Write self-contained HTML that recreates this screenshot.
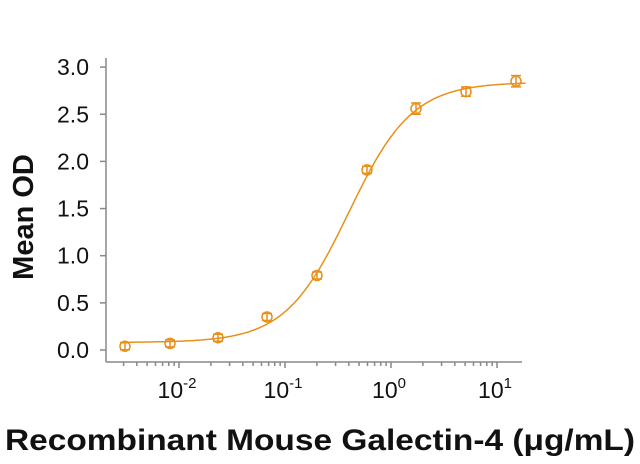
<!DOCTYPE html>
<html><head><style>
body{margin:0;background:#fff;}
svg{display:block;font-family:"Liberation Sans",Arial,sans-serif;}
</style></head><body>
<svg id="s" width="640" height="464" xmlns="http://www.w3.org/2000/svg">
<g stroke="#888" stroke-width="1.5" fill="none">
<line x1="106" y1="58" x2="106" y2="362"/>
<line x1="106" y1="362" x2="522" y2="362"/>
</g>
<g id="yt" font-size="23" fill="#111" text-anchor="end"></g>
<g id="xt" font-size="23" fill="#111" text-anchor="middle">
<text x="177" y="398">10<tspan font-size="15" dy="-10">-2</tspan></text>
<text x="283" y="398">10<tspan font-size="15" dy="-10">-1</tspan></text>
<text x="389" y="398">10<tspan font-size="15" dy="-10">0</tspan></text>
<text x="495" y="398">10<tspan font-size="15" dy="-10">1</tspan></text>
</g>
<text x="320" y="450" font-size="30" font-weight="bold" text-anchor="middle" fill="#111" textLength="630" lengthAdjust="spacingAndGlyphs">Recombinant Mouse Galectin-4 (μg/mL)</text>
<text transform="translate(33,217) rotate(-90)" font-size="29" font-weight="bold" text-anchor="middle" fill="#111">Mean OD</text>
<g id="d" stroke="#E8901A" fill="none" stroke-width="1.5"></g>
</svg>
<script>
var ns="http://www.w3.org/2000/svg",s=document.getElementById('s');
function el(p,t,a,txt){var e=document.createElementNS(ns,t);for(var k in a)e.setAttribute(k,a[k]);if(txt)e.textContent=txt;p.appendChild(e);return e;}
function X(l){return 179+(l+2)*106;}function Y(v){return 350-v*94.3;}
var yt=document.getElementById('yt'),ax=s.querySelector('g');
for(var i=0;i<=6;i++){var v=i*0.5,y=Y(v);el(yt,'text',{x:89,y:y+8},v.toFixed(1));el(ax,'line',{x1:100,y1:y,x2:106,y2:y});}
for(var d=-3;d<=1;d++)for(var m=1;m<=9;m++){var l=d+Math.log10(m),x=X(l);if(x<105||x>522)continue;el(ax,'line',{x1:x,y1:362,x2:x,y2:m==1?368:366});}
var g=document.getElementById('d');
var pts="";for(var l=-2.55;l<=1.28;l+=0.02){var c=Math.pow(10,l),v=0.08+2.76/(1+Math.pow(0.4/c,1.45));pts+=(pts?"L":"M")+X(l).toFixed(1)+","+Y(v).toFixed(1);}
el(g,'path',{d:pts});
var px=[125,170,218,267,317,367,416,466,516],vy=[0.04,0.07,0.13,0.35,0.79,1.91,2.56,2.74,2.85],er=[0.01,0.03,0.02,0.02,0.03,0.03,0.06,0.05,0.06];
for(var i=0;i<9;i++){var x=px[i],y=Y(vy[i]),e=Math.max(er[i]*94.3,3.5);
el(g,'circle',{cx:x,cy:y,r:5});
el(g,'line',{x1:x,y1:y-e,x2:x,y2:y+e});
el(g,'line',{x1:x-5,y1:y-e,x2:x+5,y2:y-e});el(g,'line',{x1:x-5,y1:y+e,x2:x+5,y2:y+e});}
</script>
</body></html>
